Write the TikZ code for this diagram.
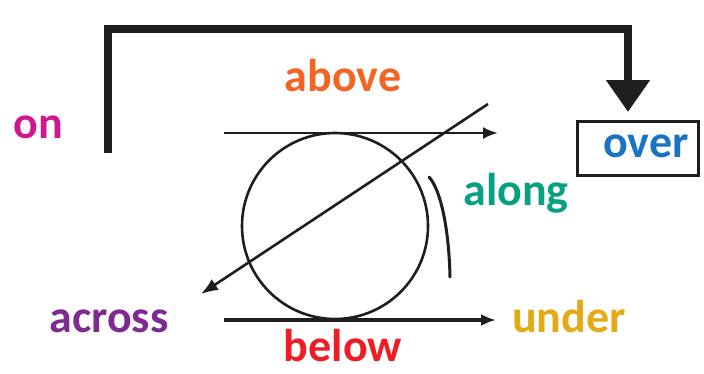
\documentclass[tikz,border=0pt]{standalone}
\usepackage{fontspec}
\setmainfont{Carlito}
\usetikzlibrary{arrows.meta}
\definecolor{onpink}{HTML}{D0178E}
\definecolor{aboveorange}{HTML}{F26522}
\definecolor{overblue}{HTML}{1A74C2}
\definecolor{alongteal}{HTML}{07A082}
\definecolor{acrosspurple}{HTML}{7E2A8F}
\definecolor{undergold}{HTML}{E3AA17}
\definecolor{belowred}{HTML}{EE1D25}
\definecolor{ink}{HTML}{1E1E1E}

\begin{document}
\begin{tikzpicture}[x=1pt,y=-1pt,line width=2.6pt,draw=ink,
  word/.style={font=\fontsize{46}{46}\selectfont\bfseries,anchor=base,inner sep=0pt},
  thinarrow/.style={-{Latex[length=15pt,width=12pt]}}]
\useasboundingbox (0,0) rectangle (704,373);
% Prepositions round the wheel, each in its own colour.
\foreach \name/\x/\y/\tone in {on/38/138/onpink,above/343/91/aboveorange,along/516/205/alongteal,across/109/332/acrosspurple,under/569/332/undergold,below/343/361/belowred}{
  \node[word,text=\tone] (\name) at (\x,\y) {\name};
}
\node[word,text=overblue] (over) at (646,157) {over};
\node[draw,line width=3pt,minimum width=121,minimum height=54,inner sep=0pt] (overbox) at (638,148) {};
% The big bracket: from on, over the top, down to over.
\coordinate (onfoot) at (108,153);
\coordinate (overtip) at (628,112);
\draw[line width=8pt,-{Triangle[length=32pt,width=42pt]}] (onfoot) |- (628,29) -- (overtip);
% Wheel with the paths that pass it.
\node[draw,circle,minimum size=186,inner sep=0pt] (wheel) at (335,226) {};
\coordinate (abovefrom) at (224,133);
\coordinate (aboveto) at (498,133);
\coordinate (belowfrom) at (224,320);
\coordinate (belowto) at (496,320);
\coordinate (acrossfrom) at (488,104);
\coordinate (acrossto) at (201,294);
\coordinate (alongfrom) at (429,177);
\coordinate (alongto) at (450,277);
\draw[thinarrow] (abovefrom) -- (aboveto);
\draw[thinarrow,line width=3.6pt] (belowfrom) -- (belowto);
\draw[-{Latex[length=17pt,width=13pt]}] (acrossfrom) -- (acrossto);
\draw[line width=3pt,line cap=round] (alongfrom) .. controls (441,190) and (449,230) .. (alongto);
\end{tikzpicture}
\end{document}
